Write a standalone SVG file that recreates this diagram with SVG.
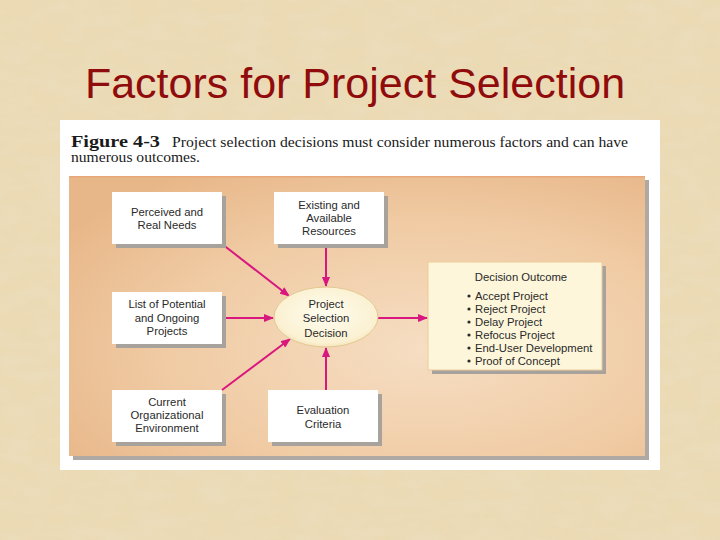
<svg xmlns="http://www.w3.org/2000/svg" width="720" height="540" viewBox="0 0 720 540">
  <defs>
    <filter id="paper" x="0" y="0" width="100%" height="100%">
      <feTurbulence type="fractalNoise" baseFrequency="0.03 0.07" numOctaves="3" seed="4" result="n"/>
      <feColorMatrix in="n" type="matrix" values="0 0 0 0 0.84  0 0 0 0 0.74  0 0 0 0 0.55  0 0 0 1.6 -0.55" result="c"/>
    </filter>
    <radialGradient id="panelGrad" cx="0.62" cy="0.62" r="0.75">
      <stop offset="0" stop-color="#F6DEC3"/>
      <stop offset="0.6" stop-color="#F0CBA4"/>
      <stop offset="1" stop-color="#E8B789"/>
    </radialGradient>
    <radialGradient id="ellGrad" cx="0.5" cy="0.45" r="0.6">
      <stop offset="0" stop-color="#FFFDF0"/>
      <stop offset="0.8" stop-color="#FBF1D2"/>
      <stop offset="1" stop-color="#EFDDB0"/>
    </radialGradient>
    <marker id="arr" viewBox="0 0 10 8" refX="9" refY="4" markerWidth="10" markerHeight="8" markerUnits="userSpaceOnUse" orient="auto">
      <path d="M0,0 L10,4 L0,8 z" fill="#D8187E"/>
    </marker>
    <style>
      .lbl { font-family: "Liberation Sans", Arial, sans-serif; font-size: 11.3px; fill: #2a2a2a; text-anchor: middle; }
      .item { font-family: "Liberation Sans", Arial, sans-serif; font-size: 11.3px; fill: #2a2a2a; }
      .cap { font-family: "Liberation Serif", "Times New Roman", serif; fill: #1a1a1a; }
      .box { fill: #FFFFFF; }
      .shadow { fill: #A8A29C; }
      .conn { stroke: #D8187E; stroke-width: 2; fill: none; marker-end: url(#arr); }
    </style>
  </defs>

  <!-- background -->
  <rect x="0" y="0" width="720" height="540" fill="#EBDAB4"/>
  <rect x="0" y="0" width="720" height="540" filter="url(#paper)" opacity="0.6"/>

  <text x="355" y="98" font-family="Liberation Sans, Arial, sans-serif" font-size="43" fill="#900C0C" text-anchor="middle">Factors for Project Selection</text>

  <!-- figure card -->
  <rect x="60" y="120" width="600" height="350" fill="#FFFFFF"/>
  <text class="cap" x="71" y="147" font-weight="bold" font-size="17" textLength="89" lengthAdjust="spacingAndGlyphs">Figure 4-3</text>
  <text class="cap" x="172" y="147" font-size="14" textLength="456" lengthAdjust="spacingAndGlyphs">Project selection decisions must consider numerous factors and can have</text>
  <text class="cap" x="71" y="162" font-size="14" textLength="129" lengthAdjust="spacingAndGlyphs">numerous outcomes.</text>

  <!-- panel -->
  <rect x="73" y="180" width="576" height="280" fill="#B0A9A3"/>
  <rect x="69" y="176" width="576" height="280" fill="url(#panelGrad)"/>
  <rect x="69" y="176" width="576" height="1.5" fill="#E9A87A"/>

  <!-- connectors -->
  <g id="connectors">
    <line class="conn" x1="222" y1="244" x2="289" y2="296"/>
    <line class="conn" x1="326" y1="244" x2="326" y2="286"/>
    <line class="conn" x1="222" y1="318" x2="273" y2="318"/>
    <line class="conn" x1="222" y1="390" x2="290" y2="339"/>
    <line class="conn" x1="326" y1="390" x2="326" y2="348"/>
    <line class="conn" x1="378" y1="318" x2="427" y2="318"/>
  </g>

  <g id="perceived">
    <rect class="shadow" x="116" y="196" width="110" height="52"/>
    <rect class="box" x="112" y="192" width="110" height="52"/>
    <text class="lbl" x="167" y="216">Perceived and</text>
    <text class="lbl" x="167" y="229">Real Needs</text>
  </g>

  <g id="existing">
    <rect class="shadow" x="278" y="196" width="110" height="52"/>
    <rect class="box" x="274" y="192" width="110" height="52"/>
    <text class="lbl" x="329" y="209">Existing and</text>
    <text class="lbl" x="329" y="222">Available</text>
    <text class="lbl" x="329" y="235">Resources</text>
  </g>

  <g id="potential">
    <rect class="shadow" x="116" y="296" width="110" height="52"/>
    <rect class="box" x="112" y="292" width="110" height="52"/>
    <text class="lbl" x="167" y="308">List of Potential</text>
    <text class="lbl" x="167" y="322">and Ongoing</text>
    <text class="lbl" x="167" y="335">Projects</text>
  </g>

  <g id="environment">
    <rect class="shadow" x="116" y="394" width="110" height="52"/>
    <rect class="box" x="112" y="390" width="110" height="52"/>
    <text class="lbl" x="167" y="406">Current</text>
    <text class="lbl" x="167" y="419">Organizational</text>
    <text class="lbl" x="167" y="432">Environment</text>
  </g>

  <g id="criteria">
    <rect class="shadow" x="272" y="394" width="110" height="52"/>
    <rect class="box" x="268" y="390" width="110" height="52"/>
    <text class="lbl" x="323" y="414">Evaluation</text>
    <text class="lbl" x="323" y="428">Criteria</text>
  </g>

  <g id="decision">
    <ellipse cx="326" cy="317" rx="52" ry="30" fill="url(#ellGrad)" stroke="#E3C890" stroke-width="1"/>
    <text class="lbl" x="326" y="308" font-size="11.8">Project</text>
    <text class="lbl" x="326" y="322" font-size="11.8">Selection</text>
    <text class="lbl" x="326" y="337" font-size="11.8">Decision</text>
  </g>

  <g id="outcome">
    <rect class="shadow" x="432" y="266" width="174" height="108"/>
    <rect x="428" y="262" width="174" height="108" fill="#FDF6DA" stroke="#EBCB9A" stroke-width="1"/>
    <text class="lbl" x="521" y="281">Decision Outcome</text>
    <g class="item">
      <circle cx="469" cy="296" r="1.6" fill="#2a2a2a"/>
      <text x="475" y="300">Accept Project</text>
      <circle cx="469" cy="309" r="1.6" fill="#2a2a2a"/>
      <text x="475" y="313">Reject Project</text>
      <circle cx="469" cy="322" r="1.6" fill="#2a2a2a"/>
      <text x="475" y="326">Delay Project</text>
      <circle cx="469" cy="335" r="1.6" fill="#2a2a2a"/>
      <text x="475" y="339">Refocus Project</text>
      <circle cx="469" cy="348" r="1.6" fill="#2a2a2a"/>
      <text x="475" y="352">End-User Development</text>
      <circle cx="469" cy="361" r="1.6" fill="#2a2a2a"/>
      <text x="475" y="365">Proof of Concept</text>
    </g>
  </g>
</svg>
